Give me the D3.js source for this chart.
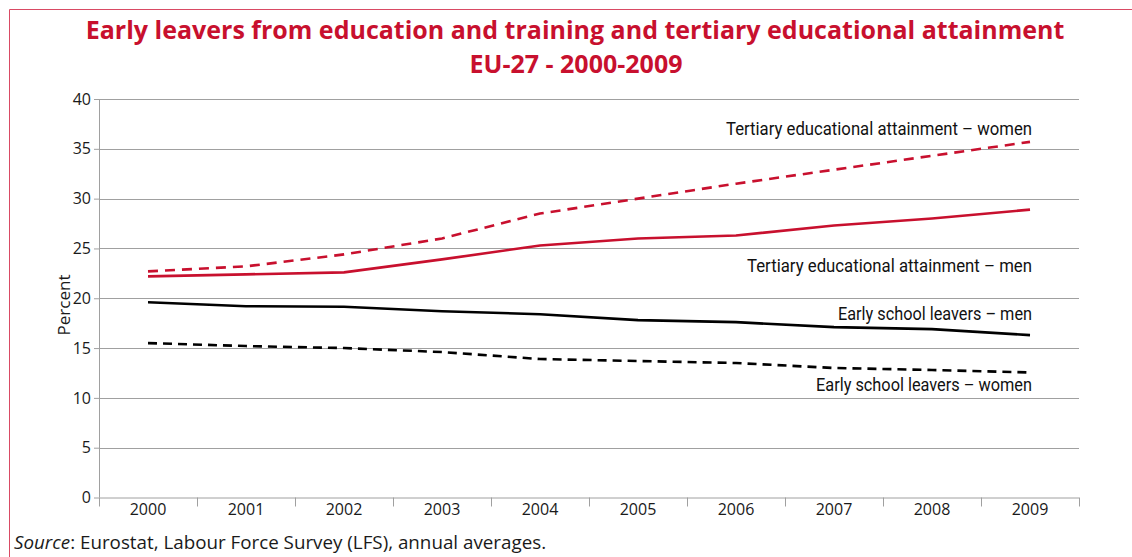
<!DOCTYPE html>
<html>
<head>
<meta charset="utf-8">
<script src="https://cdnjs.cloudflare.com/ajax/libs/d3/7.8.5/d3.min.js"></script>
<style>
  body { margin: 0; background: #fff; }
  svg { display: block; }
</style>
</head>
<body>
<div id="chart"></div>
<script>
// values
var years = ["2000", "2001", "2002", "2003", "2004", "2005", "2006", "2007", "2008", "2009"];
var tertiaryWomen = [22.7, 23.2, 24.4, 26.0, 28.5, 30.0, 31.5, 32.9, 34.3, 35.7];
var tertiaryMen = [22.2, 22.4, 22.6, 23.9, 25.3, 26.0, 26.3, 27.3, 28.0, 28.9];
var earlyMen = [19.6, 19.2, 19.15, 18.7, 18.4, 17.8, 17.6, 17.1, 16.9, 16.3];
var earlyWomen = [15.5, 15.2, 15.0, 14.6, 13.9, 13.7, 13.5, 13.0, 12.8, 12.55];
var yTicks = [0, 5, 10, 15, 20, 25, 30, 35, 40];

// labelW: width of the condensed label text in the original
var series = [
  {name: "Tertiary educational attainment \u2013 women", values: tertiaryWomen, color: "#c8102e", dash: "10,7", labelDy: -7, labelW: 306},
  {name: "Tertiary educational attainment \u2013 men", values: tertiaryMen, color: "#c8102e", dash: null, labelDy: 62, labelW: 285},
  {name: "Early school leavers \u2013 men", values: earlyMen, color: "#000", dash: null, labelDy: -15, labelW: 194},
  {name: "Early school leavers \u2013 women", values: earlyWomen, color: "#000", dash: "9,6", labelDy: 19, labelW: 216}
];

var width = 1132,
  height = 557,
  margin = {top: 99, right: 53, bottom: 59.5, left: 99},
  red = "#c8102e",
  numFont = "'Open Sans', sans-serif",
  labelFont = "'Roboto', 'Liberation Sans', sans-serif";

var svg = d3.select("#chart").append("svg")
  .attr("width", width)
  .attr("height", height);

// frame (only top and left edges fall inside the picture)
svg.append("path")
  .attr("d", "M9.5," + height + "V9.5H" + width)
  .style("fill", "none")
  .style("stroke", "#d94a64")
  .style("stroke-width", 1);

// title
svg.append("text")
  .attr("x", 575).attr("y", 39)
  .attr("text-anchor", "middle")
  .style("font-family", numFont)
  .style("font-weight", "bold")
  .style("font-size", "25px")
  .style("fill", red)
  .text("Early leavers from education and training and tertiary educational attainment");
svg.append("text")
  .attr("x", 576).attr("y", 73)
  .attr("text-anchor", "middle")
  .style("font-family", numFont)
  .style("font-weight", "bold")
  .style("font-size", "25px")
  .style("fill", red)
  .text("EU-27 - 2000-2009");

var g = svg.append("g")
  .attr("transform", "translate(" + margin.left + "," + margin.top + ")");

var w = width - margin.left - margin.right,
  h = height - margin.top - margin.bottom;

var x = d3.scaleBand().domain(years).range([0, w]);
var y = d3.scaleLinear().domain([0, 40]).range([h, 0]);

// gridlines
g.append("g")
  .selectAll("line")
  .data(yTicks.filter(function (d) { return d > 0; }))
  .enter().append("line")
  .attr("x1", 0).attr("x2", w)
  .attr("y1", function (d) { return Math.round(y(d)) + 0.5; })
  .attr("y2", function (d) { return Math.round(y(d)) + 0.5; })
  .style("stroke", "#a0a0a0")
  .style("stroke-width", 1);

// y axis
var yAxis = g.append("g")
  .call(d3.axisLeft(y).tickValues(yTicks).tickSize(5).tickPadding(3));
yAxis.select(".domain").remove();
yAxis.selectAll("line").style("stroke", "#a0a0a0");
yAxis.selectAll("text")
  .style("font-family", numFont)
  .style("font-size", "16px")
  .style("fill", "#1a1a1a");
g.append("line")
  .attr("x1", 0.5).attr("x2", 0.5)
  .attr("y1", 0).attr("y2", h)
  .style("stroke", "#a0a0a0");

// x axis: ticks between the years
var xAxis = g.append("g")
  .attr("transform", "translate(0," + h + ")")
  .call(d3.axisBottom(x).tickSize(0).tickPadding(6));
xAxis.select(".domain").remove();
xAxis.selectAll("text")
  .style("font-family", numFont)
  .style("font-size", "16px")
  .style("fill", "#1a1a1a");
g.append("line")
  .attr("x1", 0).attr("x2", w)
  .attr("y1", h + 0.5).attr("y2", h + 0.5)
  .style("stroke", "#a0a0a0");
g.append("g")
  .selectAll("line")
  .data(years.map(function (d) { return x(d); }).concat([w]))
  .enter().append("line")
  .attr("x1", function (d) { return Math.round(d) + 0.5; })
  .attr("x2", function (d) { return Math.round(d) + 0.5; })
  .attr("y1", h).attr("y2", h + 9)
  .style("stroke", "#a0a0a0");

// y label
svg.append("text")
  .attr("transform", "translate(70,305) rotate(-90)")
  .attr("text-anchor", "middle")
  .style("font-family", numFont)
  .style("font-size", "17px")
  .style("fill", "#1a1a1a")
  .text("Percent");

// lines
var line = d3.line()
  .x(function (d, i) { return x(years[i]) + x.bandwidth() / 2; })
  .y(function (d) { return y(d); });

g.selectAll(".series")
  .data(series)
  .enter().append("path")
  .attr("class", "series")
  .attr("d", function (d) { return line(d.values); })
  .style("fill", "none")
  .style("stroke", function (d) { return d.color; })
  .style("stroke-width", 2.6)
  .style("stroke-dasharray", function (d) { return d.dash; });

// direct labels at right end, squeezed to look like a condensed face
g.selectAll(".label")
  .data(series)
  .enter().append("text")
  .attr("class", "label")
  .attr("x", x(years[years.length - 1]) + x.bandwidth() / 2 + 2)
  .attr("y", function (d) { return y(d.values[d.values.length - 1]) + d.labelDy; })
  .attr("text-anchor", "end")
  .attr("textLength", function (d) { return d.labelW; })
  .attr("lengthAdjust", "spacingAndGlyphs")
  .style("font-family", labelFont)
  .style("font-size", "19px")
  .style("fill", "#111")
  .text(function (d) { return d.name; });

// source
var src = svg.append("text")
  .attr("x", 14).attr("y", 549)
  .style("font-family", numFont)
  .style("font-size", "18.8px")
  .style("fill", "#1a1a1a");
src.append("tspan").style("font-style", "italic").text("Source");
src.append("tspan").text(": Eurostat, Labour Force Survey (LFS), annual averages.");
</script>
</body>
</html>
